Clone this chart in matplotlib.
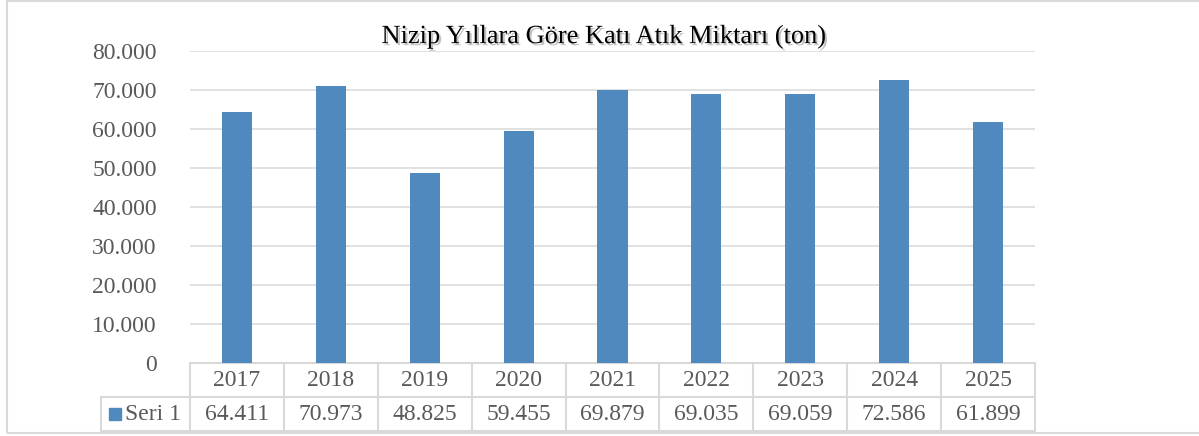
import matplotlib
matplotlib.use("Agg")
import matplotlib.pyplot as plt
import matplotlib.patheffects as pe
from matplotlib.patches import Rectangle
from matplotlib.lines import Line2D

years = ["2017", "2018", "2019", "2020", "2021", "2022", "2023", "2024", "2025"]
values = [64411, 70973, 48825, 59455, 69879, 69035, 69059, 72586, 61899]
value_labels = ["64.411", "70.973", "48.825", "59.455", "69.879", "69.035", "69.059", "72.586", "61.899"]
series_name = "Seri 1"
title = "Nizip Yıllara Göre Katı Atık Miktarı (ton)"
yticks = [0, 10000, 20000, 30000, 40000, 50000, 60000, 70000, 80000]
ytick_labels = ["0", "10.000", "20.000", "30.000", "40.000", "50.000", "60.000", "70.000", "80.000"]

W, H = 1199, 436
plt.rcParams['font.family'] = ['Liberation Serif', 'DejaVu Serif']
fig = plt.figure(figsize=(W / 100, H / 100), dpi=100)
fig.patch.set_facecolor('white')

bar_color = '#4f89bd'
grid_color = '#d9d9d9'
text_color = '#595959'
fs = 17

# outer border
fig.add_artist(Rectangle((7 / W, 1 - 433 / H), (W + 10 - 7) / W, (433 - 1) / H,
                         transform=fig.transFigure, fill=False, edgecolor=grid_color, lw=1.5))

left, right, top, bottom = 190, 1035, 51, 363
ax = fig.add_axes([left / W, 1 - bottom / H, (right - left) / W, (bottom - top) / H])
x = list(range(len(years)))
ax.bar(x, values, width=0.32, color=bar_color, zorder=3)
ax.set_xlim(-0.5, len(years) - 0.5)
ax.set_ylim(0, 80000)
ax.set_yticks(yticks)
ax.set_yticklabels(ytick_labels, fontsize=fs, color=text_color)
ax.set_xticks([])
ax.tick_params(axis='y', length=0, pad=24)
ax.grid(axis='y', color=grid_color, lw=1.1, zorder=0)
for s in ax.spines.values():
    s.set_visible(False)

# data table
trans = ax.get_xaxis_transform()
ph = bottom - top
rh = 34 / ph
col_px = (right - left) / len(years)
xl = -0.5 - (left - 101) / col_px
lk = dict(color=grid_color, lw=1.5, transform=trans, clip_on=False)
ax.add_line(Line2D([-0.5, len(years) - 0.5], [0, 0], **lk))
ax.add_line(Line2D([xl, len(years) - 0.5], [-rh, -rh], **lk))
ax.add_line(Line2D([xl, len(years) - 0.5], [-2 * rh, -2 * rh], **lk))
for i in range(len(years) + 1):
    ax.add_line(Line2D([i - 0.5, i - 0.5], [0, -2 * rh], **lk))
ax.add_line(Line2D([xl, xl], [-rh, -2 * rh], **lk))

for i in x:
    ax.text(i, -0.5 * rh, years[i], transform=trans, ha='center', va='center',
            fontsize=fs, color=text_color)
    ax.text(i, -1.5 * rh, value_labels[i], transform=trans, ha='center', va='center',
            fontsize=fs, color=text_color)

# legend key in table
key_x0 = xl + (109 - 101) / col_px
key_w = 12 / col_px
ax.add_patch(Rectangle((key_x0, -1.5 * rh - 6 / ph), key_w, 12 / ph,
                       transform=trans, color=bar_color, clip_on=False))
ax.text(xl + (125 - 101) / col_px, -1.5 * rh, series_name, transform=trans, ha='left',
        va='center', fontsize=fs, color=text_color)

# title with shadow
fig.text(604 / W, 1 - 37 / H, title, ha='center', va='center', fontsize=19, color='black',
         path_effects=[pe.SimplePatchShadow(offset=(1.5, -1.5), shadow_rgbFace='#999999', alpha=0.6),
                       pe.Normal()])

fig.savefig('out.png', dpi=100, facecolor='white')
